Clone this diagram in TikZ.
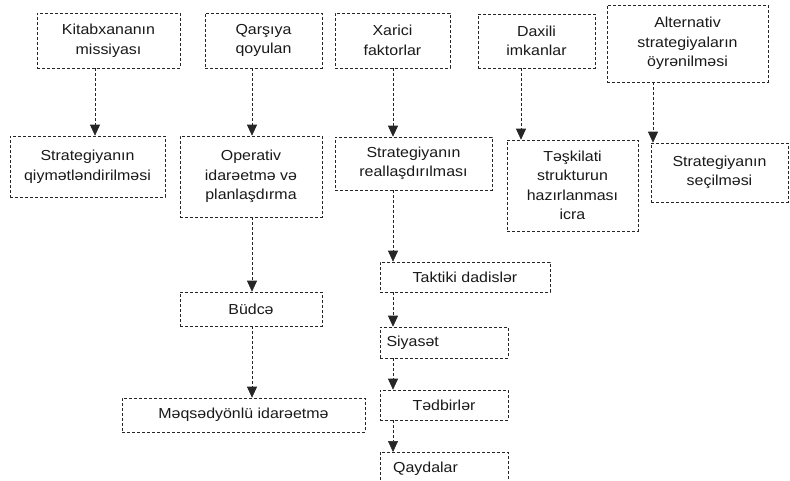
\documentclass[tikz,border=0pt]{standalone}
\usepackage{fontspec}
\setmainfont{Liberation Sans}[FakeStretch=1.1]
\usetikzlibrary{arrows.meta}
\begin{document}
\begin{tikzpicture}[x=1pt,y=-1pt,
  box/.style={draw=black!85, densely dashed, line width=0.6pt, rectangle, align=center,
    inner sep=0pt, font=\fontsize{14.5}{19.5}\selectfont, text=black!90},
  bare/.style={rectangle, inner sep=0pt, font=\fontsize{14.5}{19.5}\selectfont, text=black!90},
  arr/.style={draw=black!85, densely dashed, line width=0.6pt, -{Triangle[width=10pt,length=11pt]}},
  edge/.style={draw=black!85, densely dashed, line width=0.6pt}]
\useasboundingbox (0,0) rectangle (790,480);
% top row
\node[box, minimum width=143pt, minimum height=55pt] (k1) at (108.5,40.5) {Kitabxananın\\missiyası};
\node[box, minimum width=117pt, minimum height=55pt] (k2) at (263.5,40.5) {Qarşıya\\qoyulan};
\node[box, minimum width=115pt, minimum height=55pt] (k3) at (392.5,40.5) {Xarici\\faktorlar};
\node[box, minimum width=117pt, minimum height=54pt] (k4) at (536.5,41) {Daxili\\imkanlar};
\node[box, minimum width=161pt, minimum height=77pt] (k5) at (687.5,43.5) {Alternativ\\strategiyaların\\öyrənilməsi};
% second row
\node[box, minimum width=155pt, minimum height=61pt] (s1) at (87.5,166.5) {Strategiyanın\\qiymətləndirilməsi};
\node[box, minimum width=142pt, minimum height=81pt] (s2) at (251,176.5) {Operativ\\idarəetmə və\\planlaşdırma};
\node[box, minimum width=157pt, minimum height=53pt] (s3) at (413.5,163.5) {Strategiyanın\\reallaşdırılması};
\node[box, minimum width=131pt, minimum height=91pt] (s4) at (572.5,185.5) {Təşkilati\\strukturun\\hazırlanması\\icra};
\node[box, minimum width=137pt, minimum height=59pt] (s5) at (719.5,172.5) {Strategiyanın\\seçilməsi};
% lower left
\node[box, minimum width=142pt, minimum height=34pt] (b) at (251,309) {Büdcə};
\node[box, minimum width=243pt, minimum height=34pt] (m) at (243.5,415) {Məqsədyönlü idarəetmə};
% lower right chain
\node[box, minimum width=170pt, minimum height=30pt] (t) at (465,277) {Taktiki dadislər};
\node[box, minimum width=128pt, minimum height=31pt, text width=115pt, align=left] (sy) at (444,342.5) {Siyasət};
\node[box, minimum width=128pt, minimum height=30pt] (td) at (444,405) {Tədbirlər};
\coordinate (qtl) at (380,452);
\coordinate (qtr) at (508,452);
\coordinate (qbl) at (380,480);
\coordinate (qbr) at (508,480);
\draw[edge] (qbl) -- (qtl) -- (qtr) -- (qbr);
\node[bare, anchor=west] (q) at (393,469) {Qaydalar};
% arrow x positions
\coordinate (x1) at (95,0);
\coordinate (x2) at (252,0);
\coordinate (x3) at (393,0);
\coordinate (x4) at (521,0);
\coordinate (x5) at (653,0);
\draw[arr] (k1.south -| x1) -- (s1.north -| x1);
\draw[arr] (k2.south -| x2) -- (s2.north -| x2);
\draw[arr] (k3.south -| x3) -- (s3.north -| x3);
\draw[arr] (k4.south -| x4) -- (s4.north -| x4);
\draw[arr] (k5.south -| x5) -- (s5.north -| x5);
\draw[arr] (s2.south -| x2) -- (b.north -| x2);
\draw[arr] (b.south -| x2) -- (m.north -| x2);
\draw[arr] (s3.south -| x3) -- (t.north -| x3);
\draw[arr] (t.south -| x3) -- (sy.north -| x3);
\draw[arr] (sy.south -| x3) -- (td.north -| x3);
\draw[arr] (td.south -| x3) -- (qtl -| x3);
\end{tikzpicture}
\end{document}
